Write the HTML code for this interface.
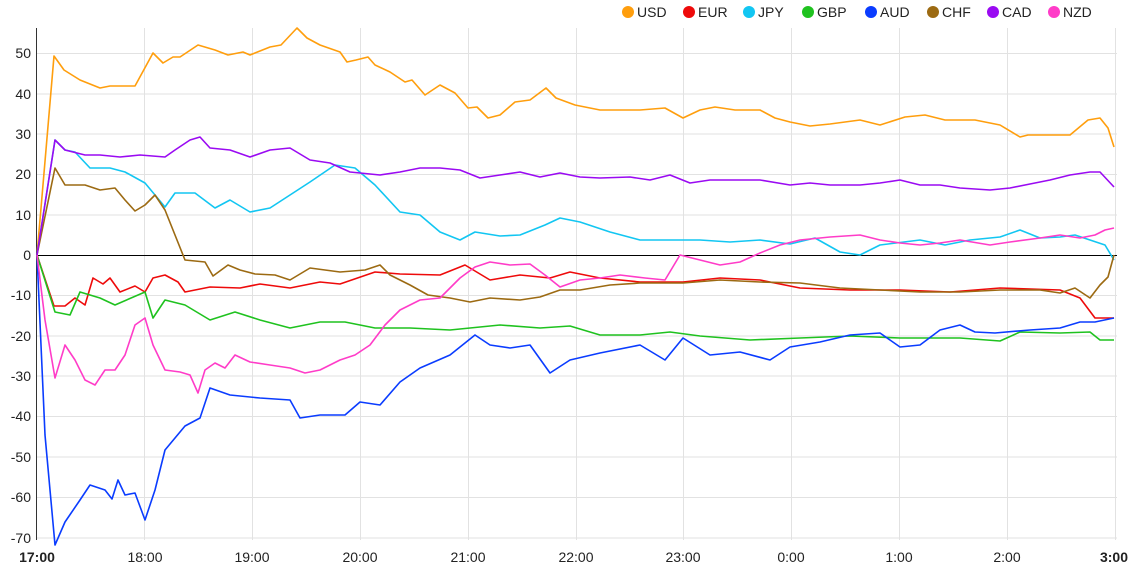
<!DOCTYPE html>
<html><head><style>
html,body{margin:0;padding:0;background:#fff;}
svg{display:block;font-family:"Liberation Sans",Arial,sans-serif;}
</style></head><body>
<svg width="1134" height="585" viewBox="0 0 1134 585">
<g stroke="#e2e2e2" stroke-width="1">
<line x1="37" x2="1117" y1="53.5" y2="53.5"/><line x1="37" x2="1117" y1="94" y2="94"/><line x1="37" x2="1117" y1="134" y2="134"/><line x1="37" x2="1117" y1="174.5" y2="174.5"/><line x1="37" x2="1117" y1="215" y2="215"/>
<line x1="37" x2="1117" y1="295.5" y2="295.5"/><line x1="37" x2="1117" y1="336" y2="336"/><line x1="37" x2="1117" y1="376" y2="376"/><line x1="37" x2="1117" y1="416.5" y2="416.5"/><line x1="37" x2="1117" y1="457" y2="457"/><line x1="37" x2="1117" y1="497.5" y2="497.5"/><line x1="37" x2="1117" y1="538" y2="538"/>
<line x1="144.5" x2="144.5" y1="28" y2="540"/><line x1="252.5" x2="252.5" y1="28" y2="540"/><line x1="360.5" x2="360.5" y1="28" y2="540"/><line x1="468.5" x2="468.5" y1="28" y2="540"/><line x1="576.5" x2="576.5" y1="28" y2="540"/><line x1="683.5" x2="683.5" y1="28" y2="540"/><line x1="791.5" x2="791.5" y1="28" y2="540"/><line x1="899.5" x2="899.5" y1="28" y2="540"/><line x1="1007.5" x2="1007.5" y1="28" y2="540"/><line x1="1115.5" x2="1115.5" y1="28" y2="540"/>
</g>
<line x1="36.5" x2="36.5" y1="28" y2="540" stroke="#333"/>
<line x1="37" x2="1117" y1="255.5" y2="255.5" stroke="#000"/>
<g font-size="14" fill="#222" text-anchor="end">
<text x="31" y="58">50</text><text x="31" y="99">40</text><text x="31" y="139">30</text><text x="31" y="179">20</text><text x="31" y="220">10</text><text x="31" y="260">0</text><text x="31" y="300">-10</text><text x="31" y="341">-20</text><text x="31" y="381">-30</text><text x="31" y="421">-40</text><text x="31" y="462">-50</text><text x="31" y="502">-60</text><text x="31" y="543">-70</text>
</g>
<g font-size="14" fill="#222" text-anchor="middle">
<text x="37" y="562" font-weight="bold">17:00</text><text x="145" y="562">18:00</text><text x="252" y="562">19:00</text><text x="360" y="562">20:00</text><text x="468" y="562">21:00</text><text x="576" y="562">22:00</text><text x="683" y="562">23:00</text><text x="791" y="562">0:00</text><text x="899" y="562">1:00</text><text x="1007" y="562">2:00</text><text x="1114" y="562" font-weight="bold">3:00</text>
</g>
<g fill="none" stroke-width="1.6" stroke-linejoin="round">
<polyline stroke="#ff9e0d" points="37,255 54,56 64,70 80,80 100,88 110,86 135,86 153,53 163,63 173,57 180,57 198,45 215,50 228,55 243,52 250,55 270,47 281,45 297,28 307,38 320,45 340,52 347,62 356,60 368,57 375,65 390,72 405,82 412,80 425,95 440,85 455,93 468,108 477,107 488,118 500,115 515,102 530,100 546,88 556,98 575,105 600,110 620,110 640,110 665,108 683,118 700,110 715,107 735,110 760,110 775,118 790,122 810,126 830,124 860,120 880,125 905,117 925,115 945,120 975,120 1000,125 1020,137 1028,135 1040,135 1055,135 1070,135 1088,120 1100,118 1108,128 1114,147"/>
<polyline stroke="#ee0a0a" points="37,255 54,306 65,306 75,298 85,305 93,278 103,284 110,278 120,292 135,286 145,292 153,278 165,275 178,282 185,292 210,287 240,288 260,284 290,288 320,282 340,284 375,272 400,274 440,275 465,265 490,280 520,275 550,278 570,272 600,278 640,282 683,282 720,278 760,280 800,288 850,290 900,290 950,292 1000,288 1060,290 1080,298 1095,318 1114,318"/>
<polyline stroke="#12c6f2" points="37,255 55,140 65,150 75,152 90,168 110,168 125,172 145,183 155,195 165,207 175,193 195,193 215,208 230,200 250,212 270,208 290,195 310,182 335,165 355,168 375,185 400,212 420,215 440,232 460,240 475,232 500,236 520,235 545,225 560,218 580,222 610,232 640,240 670,240 700,240 730,242 760,240 790,244 815,238 840,252 860,255 880,245 920,240 945,245 970,240 1000,237 1020,230 1040,238 1060,237 1075,235 1090,240 1105,245 1114,260"/>
<polyline stroke="#1fc21f" points="37,255 55,312 70,315 80,292 100,298 115,305 145,292 153,318 165,300 185,305 210,320 235,312 260,320 290,328 320,322 345,322 375,328 410,328 450,330 480,327 500,325 540,328 570,326 600,335 640,335 670,332 700,336 750,340 800,338 850,336 900,338 960,338 1000,341 1020,332 1060,333 1090,332 1100,340 1114,340"/>
<polyline stroke="#0a3cff" points="37,255 45,435 55,545 65,522 80,500 90,485 105,490 112,499 118,480 125,495 135,493 145,520 155,490 165,450 185,426 200,418 210,388 230,395 260,398 290,400 300,418 320,415 345,415 360,402 380,405 400,382 420,368 450,355 475,335 490,345 510,348 530,345 550,373 570,360 600,353 640,345 665,360 683,338 710,355 740,352 770,360 790,347 820,342 850,335 880,333 900,347 920,345 940,330 960,325 975,332 995,333 1030,330 1060,328 1080,322 1095,322 1114,318"/>
<polyline stroke="#9c6a12" points="37,255 55,168 65,185 85,185 100,190 115,188 125,200 135,211 145,205 155,195 165,210 175,235 185,260 205,262 213,276 228,265 240,270 255,274 275,275 290,280 310,268 340,272 365,270 380,265 390,275 410,285 428,295 450,298 470,302 490,298 520,300 540,297 560,290 580,290 610,285 640,283 660,283 683,283 720,280 760,282 800,283 840,288 880,290 920,292 960,292 1000,290 1040,290 1060,293 1075,288 1090,298 1100,285 1108,277 1114,255"/>
<polyline stroke="#9a0af2" points="37,255 55,140 65,150 85,155 100,155 120,157 140,155 165,157 175,150 190,140 200,137 210,148 230,150 250,157 270,150 290,148 310,160 330,163 350,172 380,175 400,172 420,168 440,168 460,170 480,178 500,175 520,172 540,177 560,173 580,177 600,178 630,177 650,180 670,175 690,183 710,180 740,180 760,180 790,185 810,183 830,185 860,185 880,183 900,180 920,185 940,185 960,188 990,190 1010,188 1030,184 1050,180 1070,175 1090,172 1100,172 1114,187"/>
<polyline stroke="#ff3cc8" points="37,255 45,320 55,378 65,345 75,360 85,380 95,385 105,370 115,370 125,355 135,325 145,318 153,345 165,370 180,372 190,375 198,393 205,370 215,363 225,368 235,355 250,362 270,365 290,368 305,373 320,370 340,360 355,355 370,345 385,325 400,310 420,300 440,298 460,278 475,267 490,262 510,265 530,264 545,275 560,287 580,280 600,278 620,275 645,278 665,280 680,255 700,260 720,265 740,262 760,253 780,245 800,240 830,237 860,235 880,240 900,243 920,245 940,243 960,240 990,245 1010,242 1040,238 1060,235 1080,238 1095,235 1105,230 1114,228"/>
</g>
<g font-size="14" fill="#222">
<circle cx="628" cy="12" r="6" fill="#ff9e0d"/><text x="637" y="17">USD</text>
<circle cx="689" cy="12" r="6" fill="#ee0a0a"/><text x="698" y="17">EUR</text>
<circle cx="749" cy="12" r="6" fill="#12c6f2"/><text x="758" y="17">JPY</text>
<circle cx="808" cy="12" r="6" fill="#1fc21f"/><text x="817" y="17">GBP</text>
<circle cx="871" cy="12" r="6" fill="#0a3cff"/><text x="880" y="17">AUD</text>
<circle cx="933" cy="12" r="6" fill="#9c6a12"/><text x="942" y="17">CHF</text>
<circle cx="993" cy="12" r="6" fill="#9a0af2"/><text x="1002" y="17">CAD</text>
<circle cx="1054" cy="12" r="6" fill="#ff3cc8"/><text x="1063" y="17">NZD</text>
</g>
</svg>
</body></html>
